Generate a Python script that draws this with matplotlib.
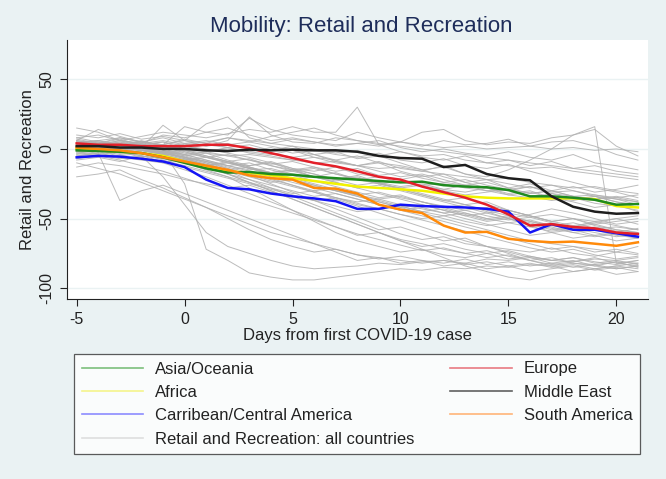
import numpy as np
import matplotlib.pyplot as plt
from matplotlib.lines import Line2D

plt.rcParams['font.family'] = ['Liberation Sans', 'DejaVu Sans']
plt.rcParams['axes.unicode_minus'] = False

# days from first case
days = list(range(-5, 22))

# regional averages
asia = [-1, -1.5, -2, -3, -6, -10, -14, -17, -16.5, -18, -18.5, -20, -21, -22, -23, -24, -23.5, -26, -27, -27.5, -29.5, -34, -34, -35, -36.5, -40, -39.5]
africa = [0, -1, -2, -3, -5, -9, -13, -16, -17, -19, -21, -23, -25, -27, -28, -29, -30, -32, -34, -35, -35.5, -35.5, -35.5, -35.5, -36, -41, -42]
carib = [-6, -5, -5.5, -7, -9, -13, -22, -28, -29, -32, -34, -35.5, -37.5, -43, -43, -40, -41, -41.5, -42, -43, -45, -60, -54, -58, -58, -60.5, -63]
europe = [4, 3, 3, 2, 2, 2, 3, 3, 0.5, -3, -6.5, -10, -12.5, -16, -20, -22, -27, -31, -35, -40, -47, -55, -54, -56, -57, -60, -61]
mideast = [2, 2, 1, 1, 0, 0, -1, -1.5, -0.5, -1, -0.5, -1, -1, -2, -5, -6.5, -7, -13, -11.5, -18, -21, -22.5, -34, -41.5, -45, -46.5, -46]
samerica = [1, 0, -1, -3, -6, -9, -12, -15, -19, -21, -22, -28, -28.5, -32, -40, -43.5, -46, -55, -60, -59.5, -64.5, -66, -67, -66.5, -68, -69.5, -67]

# individual countries
countries = [
    [3, 5, 2, 4, 6, 3, 5, 8, 6, 4, 7, 5, 3, 4, 2, 5, 3, 1, 2, 0, 1, 2, 0, 1, -1, 0, -2],
    [8, 10, 6, 9, 12, 10, 8, 11, 14, 12, 16, 12, 12, 30, 3, -2, -5, -4, -8, -10, -12, -14, -13, -16, -18, -20, -22],
    [2, 4, 1, 3, 5, 0, -2, 1, -3, -5, -8, -6, -10, -12, -9, -14, -16, -12, -18, -20, -15, -8, 0, 10, 16, -82, -84],
    [15, 12, 6, 4, 10, 8, 12, 15, 10, 6, 8, 5, 2, 4, 6, 1, -2, 0, -3, -5, -2, -6, -8, -4, -10, -12, -15],
    [5, 6, 8, 5, 3, 16, 12, 10, 22, 14, 10, 8, 6, 12, 8, 5, 2, 6, 3, 4, 7, 2, 5, 6, 2, -4, -8],
    [0, 2, 3, 1, 17, 6, 18, 23, 8, 4, 2, 0, -3, -1, -5, -2, -6, -8, -5, -10, -8, -12, -9, -14, -12, -16, -18],
    [4, 2, 5, 3, 1, 4, 2, 6, 23, 10, 5, 4, 8, 6, 3, 5, 12, 14, 6, 3, 5, 4, 8, 10, 14, 2, -5],
    [6, 14, 9, 5, 8, 4, 6, 3, 5, 9, 12, 15, 10, 6, 4, 2, 0, -2, -4, -6, -8, -10, -12, -14, -16, -18, -20],
    [2, 1, 3, 0, -2, -1, -3, -5, -4, -6, -8, -10, -9, -12, -14, -13, -16, -18, -20, -22, -21, -24, -26, -28, -27, -30, -32],
    [-3, -1, -4, -2, -5, -8, -6, -10, -12, -9, -14, -16, -13, -18, -20, -22, -19, -24, -26, -28, -30, -27, -32, -34, -36, -35, -38],
    [5, 3, 6, 4, 2, 0, 3, 1, -2, -4, -1, -6, -8, -5, -10, -12, -15, -13, -18, -22, -25, -28, -26, -30, -34, -36, -40],
    [0, -2, 1, -1, -3, -6, -9, -12, -15, -14, -18, -20, -17, -22, -25, -23, -27, -29, -26, -30, -33, -31, -35, -37, -34, -38, -42],
    [7, 4, 8, 5, 3, 6, 2, 4, 0, -3, -6, -4, -9, -12, -10, -16, -20, -18, -24, -28, -32, -30, -35, -38, -42, -40, -45],
    [1, 3, 0, 2, -1, -4, -2, -5, -8, -11, -9, -13, -16, -14, -19, -17, -21, -24, -22, -26, -29, -27, -31, -30, -33, -35, -33],
    [-5, -3, -6, -8, -10, -7, -12, -15, -13, -18, -16, -20, -23, -21, -25, -28, -26, -30, -33, -31, -29, -34, -37, -35, -39, -41, -44],
    [4, 6, 2, 5, 3, 7, 4, 1, 3, -1, 2, -4, -2, -7, -5, -10, -15, -20, -24, -22, -28, -25, -30, -27, -31, -29, -26],
    [10, 8, 11, 7, 9, 6, 4, 8, 5, 2, -1, -4, -8, -12, -16, -20, -18, -22, -26, -24, -28, -32, -30, -34, -33, -36, -38],
    [-2, 0, -3, -1, -4, -2, -6, -4, -8, -12, -16, -14, -18, -22, -20, -24, -26, -25, -28, -30, -29, -32, -30, -34, -36, -34, -37],
    [3, 2, 4, 1, 0, 2, -1, 0, -2, 1, -3, -1, -4, -6, -3, -8, -10, -7, -12, -14, -11, -16, -20, -24, -28, -31, -35],
    [-8, -6, -9, -5, -7, -10, -12, -9, -14, -17, -15, -20, -22, -19, -24, -27, -25, -29, -31, -28, -33, -35, -32, -36, -34, -38, -40],
    [2, 0, 3, -1, -3, -6, -10, -14, -18, -22, -26, -30, -28, -33, -36, -34, -38, -41, -44, -42, -46, -49, -47, -50, -52, -50, -54],
    [-1, 1, -2, 0, -4, -8, -12, -16, -20, -24, -22, -27, -30, -33, -31, -35, -38, -42, -46, -50, -48, -52, -55, -53, -57, -56, -58],
    [5, 2, 4, 1, -2, -5, -3, -8, -12, -10, -15, -18, -22, -26, -24, -29, -33, -37, -35, -40, -44, -48, -52, -50, -55, -58, -60],
    [0, 3, 1, -1, 2, -3, -6, -9, -7, -12, -15, -13, -18, -21, -25, -29, -33, -37, -40, -44, -48, -52, -56, -60, -58, -62, -64],
    [-4, -2, -5, -3, -8, -12, -16, -20, -24, -28, -32, -30, -35, -38, -36, -40, -43, -46, -44, -48, -51, -49, -53, -56, -54, -58, -60],
    [-13, -10, -12, -15, -18, -22, -25, -28, -26, -31, -34, -37, -35, -40, -43, -41, -45, -48, -46, -50, -53, -51, -55, -58, -56, -59, -62],
    [6, 4, 7, 3, 5, 2, 0, -3, -6, -10, -14, -18, -22, -20, -25, -28, -32, -36, -40, -38, -44, -48, -52, -55, -53, -50, -48],
    [1, -1, 2, 0, -2, -4, -8, -12, -10, -15, -19, -23, -27, -31, -35, -33, -38, -42, -40, -45, -50, -55, -60, -58, -62, -60, -57],
    [3, 5, 2, 0, -3, -1, -5, -9, -13, -17, -21, -25, -29, -33, -37, -41, -45, -43, -47, -51, -49, -53, -57, -60, -63, -61, -64],
    [-6, -4, -7, -5, -9, -13, -17, -21, -25, -29, -33, -37, -41, -45, -43, -47, -50, -48, -52, -55, -53, -56, -59, -57, -60, -63, -61],
    [8, 5, 3, 6, 2, -1, -5, -9, -13, -17, -15, -20, -24, -28, -26, -30, -34, -38, -42, -46, -44, -48, -52, -50, -54, -52, -50],
    [0, 2, -1, 1, -3, -7, -11, -15, -19, -17, -22, -26, -30, -34, -38, -42, -40, -44, -48, -46, -50, -54, -58, -56, -52, -55, -58],
    [-2, -4, -1, -5, -7, -10, -14, -18, -22, -26, -30, -34, -32, -36, -40, -44, -42, -46, -50, -54, -58, -62, -60, -64, -62, -66, -64],
    [4, 1, 3, -1, -4, -8, -12, -10, -14, -18, -22, -20, -24, -28, -32, -36, -40, -44, -48, -52, -50, -47, -43, -46, -50, -54, -52],
    [2, 0, 3, -1, -2, -25, -72, -80, -89, -92, -94, -94, -92, -90, -88, -86, -87, -85, -86, -84, -85, -83, -84, -82, -83, -81, -82],
    [-1, 1, -2, -5, -20, -40, -60, -70, -75, -80, -84, -86, -85, -84, -82, -83, -81, -80, -82, -79, -80, -78, -80, -81, -79, -80, -78],
    [0, -2, 1, -3, -6, -10, -15, -20, -28, -36, -44, -52, -60, -66, -70, -74, -72, -76, -78, -75, -79, -77, -80, -78, -82, -80, -83],
    [5, 3, 6, 2, -1, -5, -9, -14, -19, -25, -31, -37, -43, -49, -55, -61, -65, -63, -68, -70, -72, -74, -71, -75, -77, -74, -76],
    [-3, -5, -2, -6, -10, -15, -20, -26, -32, -38, -44, -50, -56, -62, -60, -65, -68, -72, -75, -73, -77, -80, -78, -82, -84, -81, -85],
    [1, 3, 0, 2, -2, -6, -10, -16, -22, -28, -34, -40, -46, -52, -58, -56, -61, -66, -64, -70, -75, -80, -84, -88, -86, -90, -88],
    [-10, -14, -18, -24, -30, -36, -42, -48, -54, -60, -64, -68, -72, -76, -78, -80, -82, -80, -83, -81, -84, -82, -85, -83, -86, -84, -86],
    [3, 1, 4, 0, -3, -7, -11, -15, -19, -23, -27, -31, -35, -39, -43, -47, -51, -55, -59, -63, -67, -71, -74, -72, -76, -79, -77],
    [-20, -18, -15, -22, -28, -35, -42, -50, -58, -65, -70, -74, -72, -76, -79, -77, -80, -82, -79, -83, -81, -84, -82, -85, -83, -86, -84],
    [6, 3, 5, 1, -2, -6, -12, -18, -24, -30, -36, -42, -48, -54, -60, -66, -72, -78, -84, -88, -92, -94, -90, -88, -86, -84, -82],
    [0, 2, -1, 1, -3, -6, -9, -13, -17, -21, -26, -31, -36, -41, -46, -51, -56, -61, -66, -70, -74, -78, -82, -80, -84, -86, -84],
    [-5, -3, -37, -30, -26, -32, -38, -44, -50, -56, -62, -68, -74, -80, -78, -82, -80, -84, -82, -86, -84, -88, -86, -84, -87, -85, -88],
    [2, 4, 1, 3, 0, -4, -8, -12, -16, -20, -24, -28, -32, -36, -40, -44, -48, -52, -56, -60, -64, -68, -72, -70, -74, -72, -75],
    [-7, -5, -8, -12, -16, -21, -26, -31, -36, -41, -46, -51, -56, -61, -65, -69, -73, -71, -75, -78, -76, -80, -83, -81, -78, -82, -80],
    [4, 6, 3, 5, 2, -2, -6, -10, -14, -18, -22, -26, -30, -34, -38, -42, -46, -50, -54, -58, -62, -66, -68, -70, -72, -74, -70],
    [-2, 0, -3, -1, -4, -8, -13, -18, -24, -30, -36, -42, -48, -54, -60, -66, -70, -68, -72, -75, -73, -77, -80, -78, -81, -83, -80],
]

regions = ['Asia/Oceania', 'Africa', 'Carribean/Central America', 'Europe', 'Middle East', 'South America']
region_series = [asia, africa, carib, europe, mideast, samerica]
region_colors = ['#1f8a1f', '#f2f200', '#1414f5', '#e3202a', '#1e1e1e', '#ff8a0a']
legend_colors = ['#7cbf7c', '#f4f48c', '#8c8cff', '#e87a82', '#606060', '#ffb478']

bg = '#eaf2f3'
fig = plt.figure(figsize=(6.66, 4.79), dpi=100, facecolor=bg)
ax = fig.add_axes([0.1002, 0.3752, 0.8732, 0.5413])
ax.set_facecolor('white')

for c in countries:
    ax.plot(days, c, color='#b0b0b0', lw=0.7, alpha=0.85, zorder=2)

draw_order = [1, 0, 2, 3, 5, 4]
for i in draw_order:
    ax.plot(days, region_series[i], color=region_colors[i], lw=1.8, zorder=3)

ax.set_xlim(-5.46, 21.48)
ax.set_ylim(-107.9, 78.2)
ax.set_xticks([-5, 0, 5, 10, 15, 20])
ax.set_yticks([-100, -50, 0, 50])
ax.yaxis.grid(True, color=bg, lw=1.0)
ax.set_axisbelow(True)
for s in ['top', 'right']:
    ax.spines[s].set_visible(False)
for s in ['left', 'bottom']:
    ax.spines[s].set_color('#222222')
    ax.spines[s].set_linewidth(0.8)
ax.tick_params(direction='out', length=5, width=0.8, color='#222222',
               labelsize=11.5, labelcolor='#222222', pad=4)
plt.setp(ax.get_yticklabels(), rotation=90, va='center')

ax.set_xlabel('Days from first COVID-19 case', fontsize=12, color='#222222', labelpad=1)
ax.set_ylabel('Retail and Recreation', fontsize=12, color='#222222', labelpad=3)
fig.text(0.543, 0.944, 'Mobility: Retail and Recreation', fontsize=16,
         color='#1e2d5a', ha='center', va='center')

handles = []
labels = []
for i in [0, 1, 2]:
    handles.append(Line2D([], [], color=legend_colors[i], lw=1.2))
    labels.append(regions[i])
handles.append(Line2D([], [], color='#dedede', lw=1.2))
labels.append('Retail and Recreation: all countries')
for i in [3, 4, 5]:
    handles.append(Line2D([], [], color=legend_colors[i], lw=1.2))
    labels.append(regions[i])

leg = fig.legend(handles, labels, ncol=2, loc='upper left',
                 bbox_to_anchor=(74 / 666, 1 - 354 / 479, 566 / 666, 0), mode='expand',
                 fontsize=12, frameon=True, fancybox=False, edgecolor='#333333',
                 handlelength=3.7, handletextpad=0.7, labelspacing=0.5, borderpad=0.45,
                 borderaxespad=0)
leg.get_frame().set_linewidth(0.9)
for t in leg.get_texts():
    t.set_color('#222222')

fig.savefig('out.png', dpi=100, facecolor=bg)
